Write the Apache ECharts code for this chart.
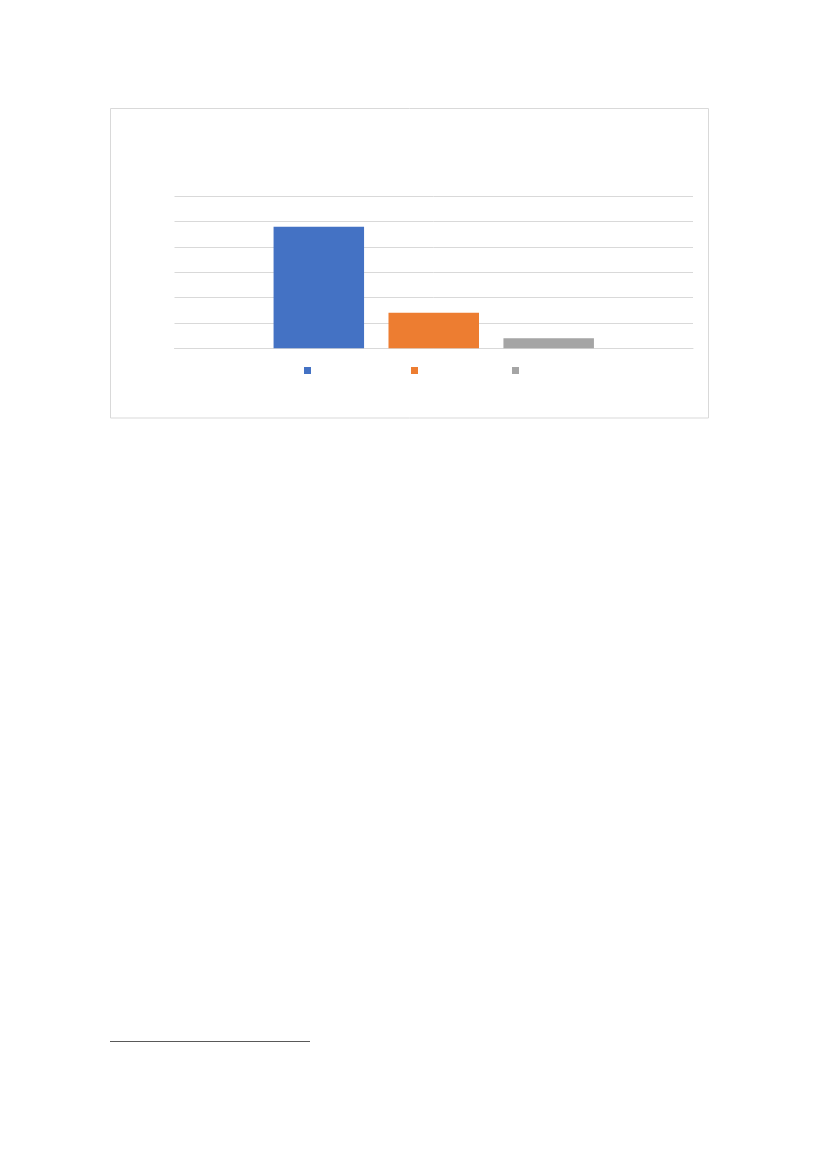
<!DOCTYPE html>
<html>
<head>
<meta charset="utf-8">
<script src="https://cdn.jsdelivr.net/npm/echarts@6/dist/echarts.min.js"></script>
<style>
html,body{margin:0;padding:0;background:#fff;}
#chart{width:827px;height:1169px;}
</style>
</head>
<body>
<div id="chart"></div>
<script>
const categories = [''];
const seriesNames = ['S1', 'S2', 'S3'];
const seriesValues = [[4.8], [1.4], [0.4]];
const seriesColors = ['#4472C4', '#ED7D31', '#A5A5A5'];
const yMin = 0, yMax = 6, yInterval = 1;
const legendLefts = [304, 411, 512];

const chart = echarts.init(document.getElementById('chart'), null, {renderer: 'canvas'});
const option = {
  animation: false,
  backgroundColor: '#ffffff',
  graphic: [
    {type: 'rect', shape: {x: 110.5, y: 108.5, width: 598, height: 309.5},
     style: {fill: 'none', stroke: '#d9d9d9', lineWidth: 1}, silent: true},
    {type: 'line', shape: {x1: 110, y1: 1041.5, x2: 310, y2: 1041.5},
     style: {stroke: '#595959', lineWidth: 1}, silent: true}
  ],
  legend: seriesNames.map((n, i) => ({
    data: [n], left: legendLefts[i], top: 367, itemWidth: 7, itemHeight: 7,
    icon: 'rect', formatter: () => '', padding: 0, selectedMode: false
  })),
  grid: {left: 174.5, right: 827 - 693, top: 196.3, bottom: 1169 - 348.3, containLabel: false},
  xAxis: {
    type: 'category', data: categories,
    axisLine: {show: true, lineStyle: {color: '#d9d9d9', width: 1}},
    axisTick: {show: false}, axisLabel: {show: false}
  },
  yAxis: {
    type: 'value', min: yMin, max: yMax, interval: yInterval,
    axisLine: {show: false}, axisTick: {show: false}, axisLabel: {show: false},
    splitLine: {lineStyle: {color: '#d9d9d9', width: 1}}
  },
  series: seriesNames.map((n, i) => ({
    name: n, type: 'bar', data: seriesValues[i], barWidth: 90.5, barGap: '27%',
    itemStyle: {color: seriesColors[i]}
  }))
};
chart.setOption(option);
</script>
</body>
</html>
